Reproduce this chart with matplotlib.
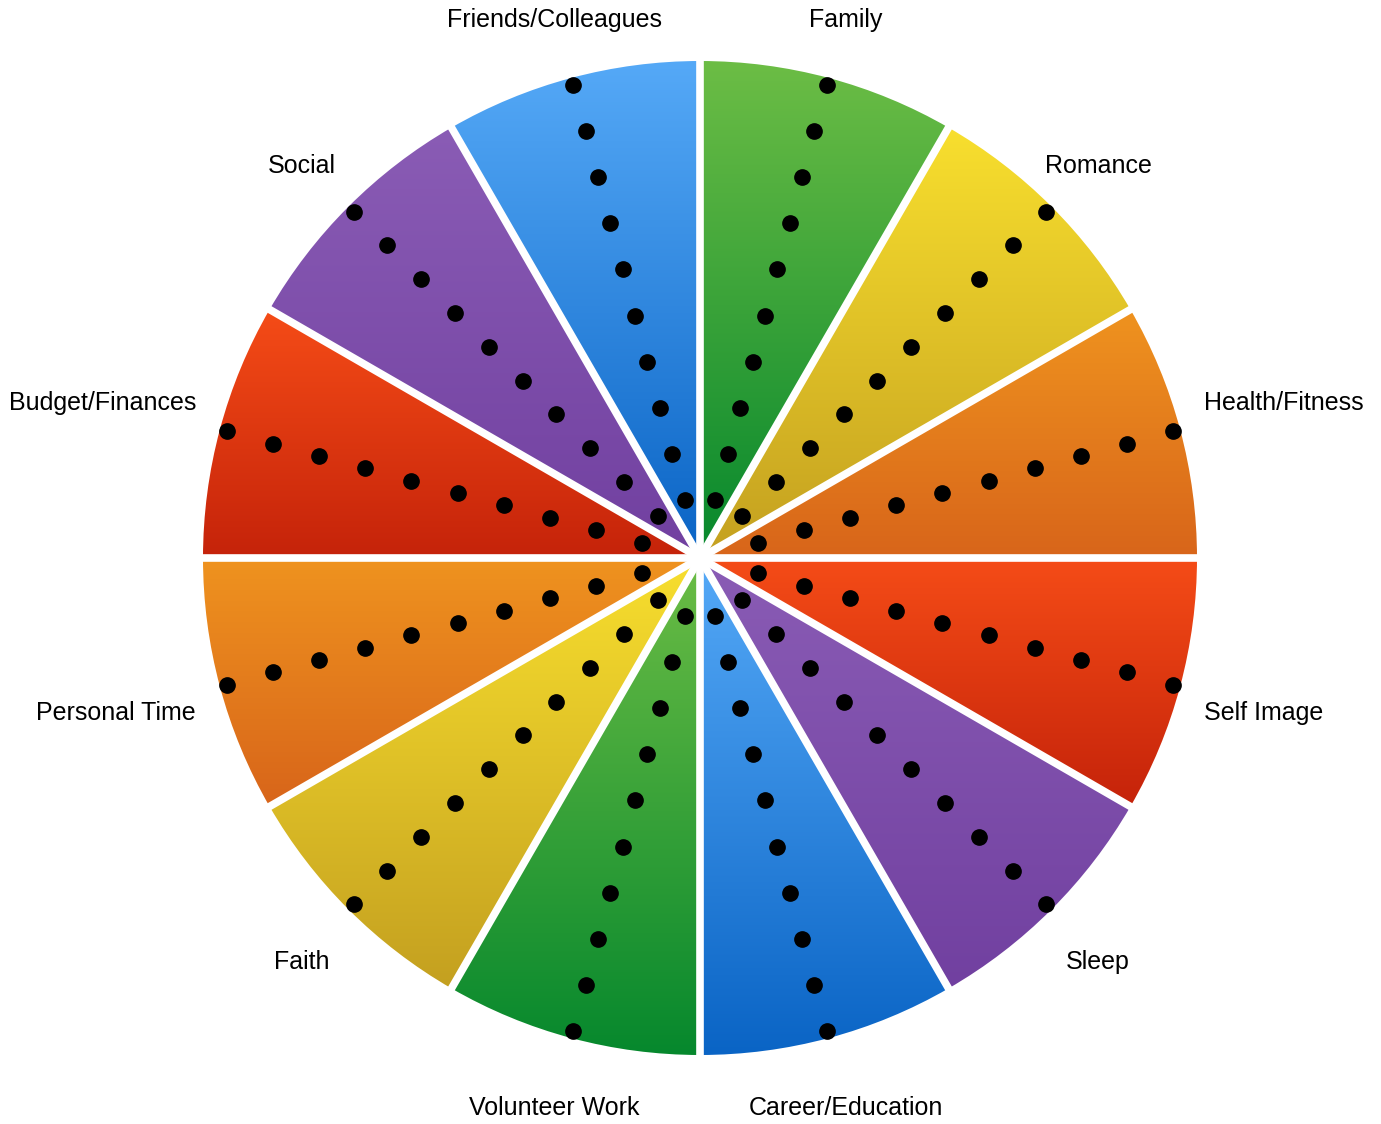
import numpy as np
import matplotlib.pyplot as plt
from matplotlib.patches import Wedge
from matplotlib.colors import LinearSegmentedColormap

plt.rcParams['font.family'] = ['Liberation Sans', 'DejaVu Sans']

# ---------- data ----------
categories = ["Family", "Romance", "Health/Fitness", "Self Image", "Sleep",
              "Career/Education", "Volunteer Work", "Faith", "Personal Time",
              "Budget/Finances", "Social", "Friends/Colleagues"]
levels = [1, 2, 3, 4, 5, 6, 7, 8, 9, 10]

top_colors = ["#6cbd45", "#f8df2e", "#ef931f", "#f54c17", "#8a5cb5", "#55a9f7"] * 2
bottom_colors = ["#06882d", "#c4a020", "#d8651a", "#c5230a", "#7140a0", "#0a64c5"] * 2

# ---------- figure ----------
W, H = 1381, 1124
cx, cy, Rpx = 700, 558, 497
fig = plt.figure(figsize=(W / 100, H / 100), dpi=100)
ax = fig.add_axes([0, 0, 1, 1])
ax.set_xlim(-cx / Rpx, (W - cx) / Rpx)
ax.set_ylim(-(H - cy) / Rpx, cy / Rpx)
ax.axis('off')

n = len(categories)
step = 360 / n
rmax = levels[-1] + 0.4
grad = np.linspace(0, 1, 256).reshape(-1, 1)
dy_lab = -6 / Rpx   # labels sit slightly low

for i, name in enumerate(categories):
    t2 = 90 - step * i
    t1 = t2 - step
    mid = np.radians((t1 + t2) / 2)

    # wedge with vertical gradient
    w = Wedge((0, 0), 1, t1, t2, facecolor='none', edgecolor='none')
    ax.add_patch(w)
    a = np.radians(np.linspace(t1, t2, 100))
    xs = np.concatenate([[0], np.cos(a)])
    ys = np.concatenate([[0], np.sin(a)])
    cmap = LinearSegmentedColormap.from_list("g%d" % i, [bottom_colors[i], top_colors[i]])
    im = ax.imshow(grad, cmap=cmap, origin='lower', aspect='auto',
                   extent=[xs.min(), xs.max(), ys.min(), ys.max()], zorder=1)
    im.set_clip_path(w)

    # scale dots
    r = (np.array(levels) + 0.25) / rmax
    ax.plot(r * np.cos(mid), r * np.sin(mid), 'o', color='black',
            markersize=11, zorder=4)

    # label
    if abs(np.cos(mid)) > 0.9:
        ly = 1.207 * np.sin(mid)
        if np.cos(mid) > 0:
            ax.text(1 + 7 / Rpx, ly, name, ha='left', va='center', fontsize=18)
        else:
            ax.text(-1 - 7 / Rpx, ly, name, ha='right', va='center', fontsize=18)
    else:
        ax.text(1.133 * np.cos(mid), 1.133 * np.sin(mid) + dy_lab, name,
                ha='center', va='center', fontsize=18)

# white gaps between sectors
for i in range(n):
    ang = np.radians(90 - step * i)
    ax.plot([0, 1.02 * np.cos(ang)], [0, 1.02 * np.sin(ang)],
            color='white', linewidth=5.5, solid_capstyle='butt', zorder=3)

fig.savefig("out.png", dpi=100)
